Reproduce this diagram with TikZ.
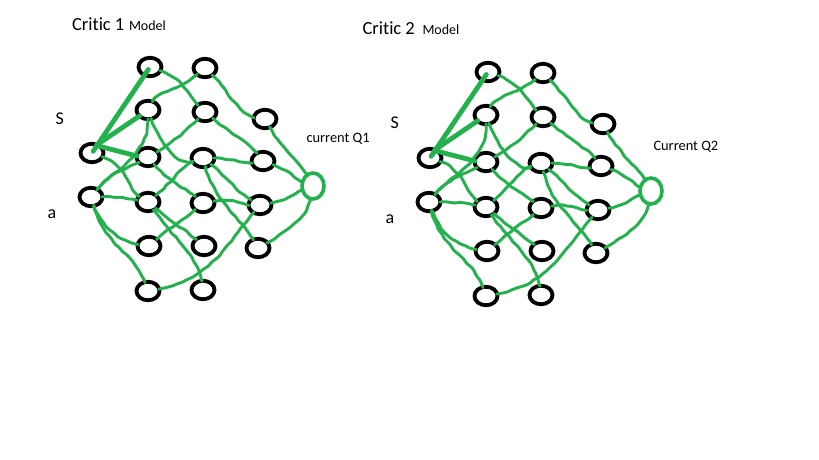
\documentclass[tikz,border=0pt]{standalone}
\usepackage{fontspec}
\setmainfont{Carlito}[Ligatures={NoCommon}]
\usetikzlibrary{shapes.geometric,decorations.pathmorphing}
\definecolor{pgreen}{RGB}{34,177,76}
\begin{document}
\begin{tikzpicture}[x=1pt,y=1pt,
  nn/.style={ellipse, draw=black, line width=3.8pt, minimum width=23pt, minimum height=18.5pt, inner sep=0pt, outer sep=-0.5pt},
  outn/.style={ellipse, draw=pgreen, line width=3.6pt, minimum width=22pt, minimum height=26pt, inner sep=0pt, outer sep=-0.5pt},
  wire/.style={draw=pgreen, line width=2.9pt, line cap=round, line join=round, decorate, decoration={random steps, segment length=5pt, amplitude=0.8pt}, rounded corners=1.5pt},
  boldwire/.style={draw=pgreen, line width=4.8pt, line cap=round},
  lbl/.style={anchor=base west, inner sep=0pt, outer sep=0pt, text=black}
]
\pgfmathsetseed{7}
\useasboundingbox (0,0) rectangle (819,-460);
\fill[white] (0,0) rectangle (819,-460);

% labels
\node[lbl, font=\fontsize{18.5}{20}\selectfont] (t1) at (72,-31) {Critic 1};
\node[lbl, font=\fontsize{14}{16}\selectfont] (m1) at (129,-31) {Model};
\node[lbl, font=\fontsize{18.5}{20}\selectfont] (t2) at (362.5,-35) {Critic 2};
\node[lbl, font=\fontsize{14}{16}\selectfont] (m2) at (422.5,-35) {Model};
\node[lbl, font=\fontsize{18}{20}\selectfont] (s1) at (55.5,-124) {S};
\node[lbl, font=\fontsize{18}{20}\selectfont] (a1) at (47.5,-218.3) {a};
\node[lbl, font=\fontsize{18}{20}\selectfont] (s2) at (390.5,-128.3) {S};
\node[lbl, font=\fontsize{18}{20}\selectfont] (a2) at (385.5,-223.3) {a};
\node[lbl, font=\fontsize{14.4}{16}\selectfont] (q1) at (306.5,-142.7) {current Q1};
\node[lbl, font=\fontsize{14.4}{16}\selectfont] (q2) at (653.5,-150.7) {Current Q2};

\foreach \dx/\dy/\p in {0/0/c1-, 338/-5/c2-}{
\begin{scope}[shift={(\dx,\dy)}, name prefix=\p]
  \node[nn] (I1) at (92,-153) {};
  \node[nn] (I2) at (91,-197) {};
  \node[nn] (A1) at (150,-67) {};
  \node[nn] (A2) at (148,-110) {};
  \node[nn] (A3) at (148,-157) {};
  \node[nn] (A4) at (148,-202) {};
  \node[nn] (A5) at (149,-246) {};
  \node[nn] (A6) at (148,-291) {};
  \node[nn] (B1) at (205,-68) {};
  \node[nn] (B2) at (205,-112) {};
  \node[nn] (B3) at (203,-158) {};
  \node[nn] (B4) at (203,-203) {};
  \node[nn] (B5) at (204,-246) {};
  \node[nn] (B6) at (203,-290) {};
  \node[nn] (C1) at (265,-119) {};
  \node[nn] (C2) at (263,-161) {};
  \node[nn] (C3) at (260,-205) {};
  \node[nn] (C4) at (258,-248) {};
  \node[outn] (O) at (313,-186) {};

  % thick straight connectors
  \draw[boldwire, shorten <=2pt, shorten >=3pt] (I1.center) -- (A1.center);
  \draw[boldwire] (I1.60) -- (A2.215);
  \draw[boldwire] (I1.45) -- (A3.175);

  % wavy connectors
  \draw[wire] (A1) to[out=-20,in=135] (B2);
  \draw[wire] (B1) to[out=-140,in=60] (A2);
  \draw[wire] (B1) to[out=-45,in=170] (C1);
  \draw[wire] (A2) to[out=-90,in=50] (I2);
  \draw[wire] (A2) to[out=-70,in=200] (B3);
  \draw[wire] (B2) to[out=-135,in=30] (A3);
  \draw[wire] (B2) to[out=-40,in=130] (C2);
  \draw[wire] (I1) to[out=-20,in=145] (A4);
  \draw[wire] (I2) to[out=50,in=210] (A3);
  \draw[wire] (I2) to[out=0,in=170] (A4);
  \draw[wire] (I2) to[out=-70,in=170] (A5);
  \draw[wire] (I2) to[out=-75,in=110] (A6);
  \draw[wire] (A3) to[out=-50,in=140] (B4);
  \draw[wire] (A4) to[out=40,in=200] (B3);
  \draw[wire] (A4) to[out=-40,in=140] (B5);
  \draw[wire] (A4) to[out=-55,in=100] (B6);
  \draw[wire] (A5) to[out=40,in=220] (B4);
  \draw[wire] (A6) to[out=10,in=230] (C3);
  \draw[wire] (B3) to[out=0,in=190] (C2);
  \draw[wire] (B3) to[out=-40,in=150] (C3);
  \draw[wire] (B3) to[out=-75,in=120] (C4);
  \draw[wire] (B4) to[out=10,in=180] (C3);
  \draw[wire] (C1) to[out=-60,in=120] (O);
  \draw[wire] (C2) to[out=-20,in=160] (O);
  \draw[wire] (C3) to[out=10,in=200] (O);
  \draw[wire] (C4) to[out=30,in=-100] (O);
\end{scope}
}
\end{tikzpicture}
\end{document}
